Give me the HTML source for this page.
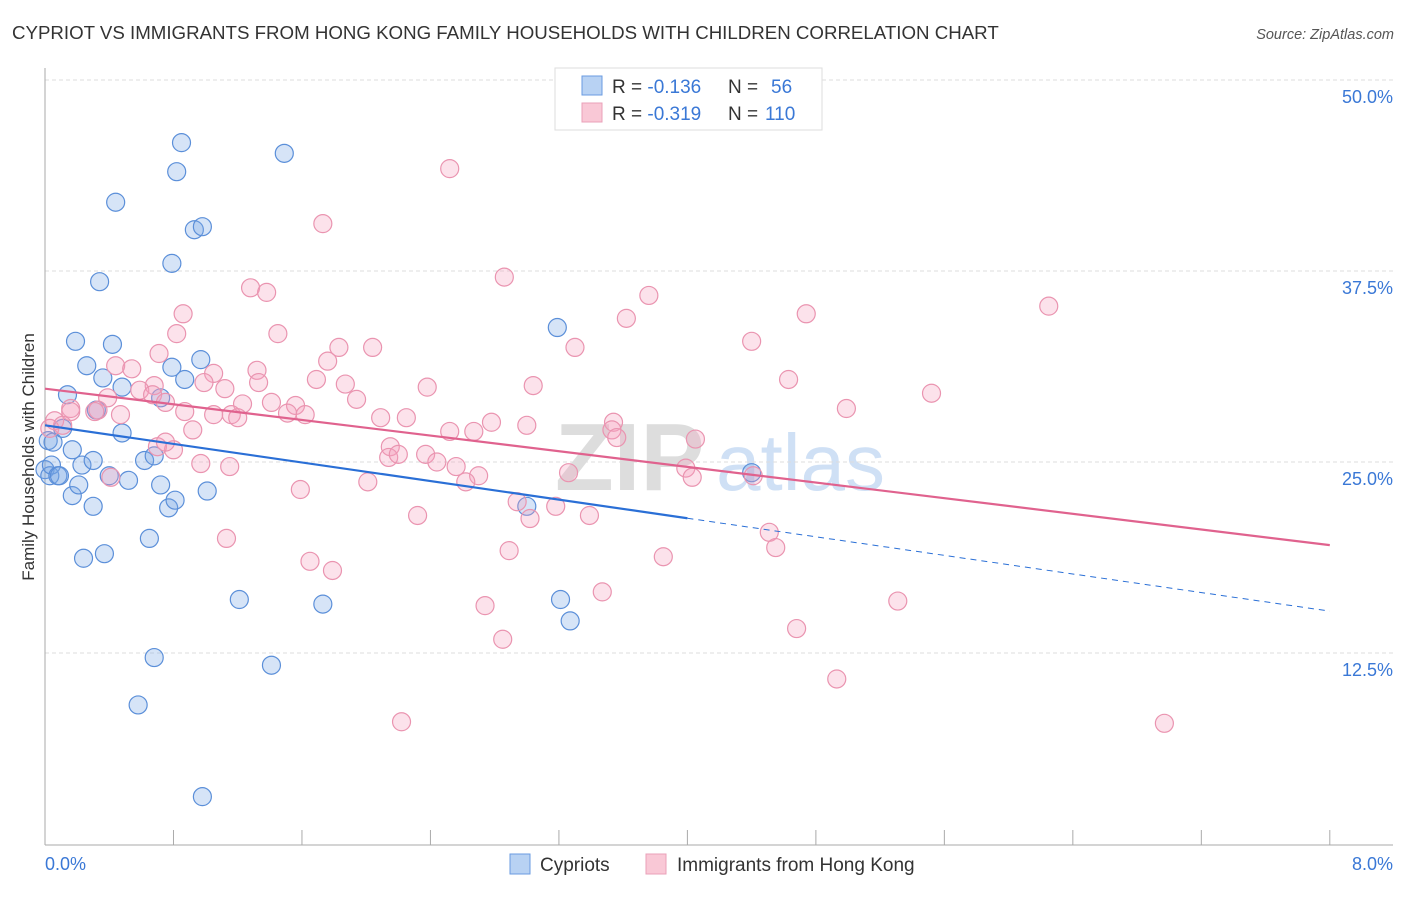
<!DOCTYPE html>
<html><head><meta charset="utf-8"><style>
body{margin:0;background:#fff;font-family:"Liberation Sans",sans-serif}
svg text{font-family:"Liberation Sans",sans-serif}
</style></head><body>
<svg id="chart" width="1406" height="892" viewBox="0 0 1406 892" xmlns="http://www.w3.org/2000/svg">
<text x="12" y="39" font-size="18.7" fill="#333">CYPRIOT VS IMMIGRANTS FROM HONG KONG FAMILY HOUSEHOLDS WITH CHILDREN CORRELATION CHART</text>
<text x="1394" y="39" font-size="14.5" fill="#555" font-style="italic" text-anchor="end">Source: ZipAtlas.com</text>
<g>
<text x="555" y="490" font-size="96" font-family="Liberation Serif" fill="#ddd" font-weight="bold">ZIP</text>
<text x="716" y="490" font-size="80" fill="#cfe0f5">atlas</text>
</g>
<g id="grid"></g>
<g id="axes"></g>
<g id="marks"></g>
<text transform="translate(34,457) rotate(-90)" font-size="17" fill="#333" text-anchor="middle">Family Households with Children</text>
<g>
<rect x="555" y="68" width="267" height="62" fill="#fff" stroke="#ddd"/>
<rect x="582" y="76" width="20" height="19" fill="#b8d2f3" stroke="#6a9be0"/>
<rect x="582" y="103" width="20" height="19" fill="#f9c8d6" stroke="#eaa0b8"/>
<text x="612" y="93" font-size="19" fill="#333">R = <tspan fill="#3a78d6">-0.136</tspan><tspan x="728">N = </tspan><tspan x="771" fill="#3a78d6">56</tspan></text>
<text x="612" y="120" font-size="19" fill="#333">R = <tspan fill="#3a78d6">-0.319</tspan><tspan x="728">N = </tspan><tspan x="765" fill="#3a78d6">110</tspan></text>
</g>
<g>
<rect x="510" y="854" width="20" height="20" fill="#b8d2f3" stroke="#6a9be0"/>
<text x="540" y="871" font-size="19" fill="#333">Cypriots</text>
<rect x="646" y="854" width="20" height="20" fill="#f9c8d6" stroke="#eaa0b8"/>
<text x="677" y="871" font-size="19" fill="#333">Immigrants from Hong Kong</text>
</g>
</svg>
<script>
const blueX=[0.00,0.03,0.04,0.08,0.09,0.02,0.05,0.14,0.11,0.17,0.21,0.23,0.17,0.19,0.26,0.30,0.30,0.32,0.34,0.36,0.42,0.44,0.48,0.48,0.52,0.24,0.37,0.40,0.65,0.62,0.68,0.72,0.72,0.77,0.79,0.81,0.79,0.82,0.85,0.87,0.93,0.97,0.98,1.01,0.68,0.58,0.98,1.21,1.41,1.49,1.73,3.00,3.19,3.21,3.27,4.40];
const blueY=[24.5,24.1,24.8,24.1,24.1,26.4,26.3,29.4,27.2,22.8,23.5,24.8,25.8,32.9,31.3,25.1,22.1,28.4,36.8,30.5,32.7,42.0,29.9,26.9,23.8,18.7,19.0,24.1,20.0,25.1,25.4,29.2,23.5,22.0,38.0,22.5,31.2,44.0,45.9,30.4,40.2,31.7,40.4,23.1,12.2,9.1,3.1,16.0,11.7,45.2,15.7,22.1,33.8,16.0,14.6,24.3];
const pinkX=[2.52,1.73,2.86,1.28,1.38,3.76,6.25,0.86,3.62,4.74,1.45,0.82,4.40,1.83,2.04,3.30,0.71,0.44,1.76,0.54,1.32,1.05,4.63,1.69,5.52,0.68,3.04,2.38,0.99,1.33,1.87,1.12,0.59,0.67,1.94,1.23,1.41,1.56,0.75,4.99,0.39,1.51,1.62,2.09,2.25,0.87,1.05,1.16,1.20,0.47,0.33,0.16,0.31,0.16,0.06,0.03,0.11,0.92,2.78,3.00,3.54,3.53,3.56,4.05,2.52,2.67,2.15,0.80,2.14,2.20,2.37,2.44,2.56,2.70,2.62,3.26,3.99,4.03,4.41,1.15,0.41,1.59,2.01,0.97,2.94,3.02,3.18,3.39,2.32,1.13,1.65,1.79,2.89,3.85,4.51,4.55,3.47,5.31,2.74,2.85,4.68,4.93,2.22,6.97,0.70,0.75];
const pinkY=[44.2,40.6,37.1,36.4,36.1,35.9,35.2,34.7,34.4,34.7,33.4,33.4,32.9,32.5,32.5,32.5,32.1,31.3,31.6,31.1,31.0,30.8,30.4,30.4,29.5,30.0,30.0,29.9,30.2,30.2,30.1,29.8,29.7,29.4,29.1,28.8,28.9,28.7,28.9,28.5,29.2,28.2,28.1,27.9,27.9,28.3,28.1,28.1,27.9,28.1,28.4,28.5,28.3,28.3,27.7,27.2,27.4,27.1,27.6,27.4,27.6,27.1,26.6,26.5,27.0,27.0,26.0,25.8,25.3,25.5,25.5,25.0,24.7,24.1,23.7,24.3,24.6,24.0,24.1,24.7,24.0,23.2,23.7,24.9,22.4,21.3,22.1,21.5,21.5,20.0,18.5,17.9,19.2,18.8,20.4,19.4,16.5,15.9,15.6,13.4,14.1,10.8,8.0,7.9,26.0,26.3];
const yTicks=[12.5,25.0,37.5,50.0];
const xTickVals=[0,0.8,1.6,2.4,3.2,4.0,4.8,5.6,6.4,7.2,8.0];
const blueTrend=[27.4,-1.52]; // intercept, slope
const pinkTrend=[29.8,-1.28];
const blueSolidEnd=4.0;

const X=v=>45+v*160.6, Y=v=>844-v*15.28;
const NS="http://www.w3.org/2000/svg";
function mk(tag,attrs,parent){const e=document.createElementNS(NS,tag);for(const k in attrs)e.setAttribute(k,attrs[k]);parent.appendChild(e);return e;}
const grid=document.getElementById('grid'),axes=document.getElementById('axes'),marks=document.getElementById('marks');
yTicks.forEach(t=>{
  const l=mk('line',{x1:45,x2:1393,y1:Y(t),y2:Y(t),stroke:'#ddd','stroke-dasharray':'4,3'},grid);
  
  
  const tx=mk('text',{x:1393,y:Y(t)+23,'font-size':18,fill:'#3a78d6','text-anchor':'end'},axes);
  tx.textContent=t.toFixed(1)+'%';
  
  
});
const la=mk('line',{x1:45,x2:45,y1:68,y2:845,stroke:'#aaa'},axes);


const ba=mk('line',{x1:45,x2:1393,y1:845,y2:845,stroke:'#aaa'},axes);


xTickVals.forEach(t=>{
  const l=mk('line',{x1:X(t),x2:X(t),y1:830,y2:845,stroke:'#aaa'},axes);
  
  
});
const xl0=mk('text',{x:45,y:870,'font-size':18,fill:'#3a78d6'},axes);xl0.textContent='0.0%';


const xl1=mk('text',{x:1393,y:870,'font-size':18,fill:'#3a78d6','text-anchor':'end'},axes);xl1.textContent='8.0%';



blueX.forEach((x,i)=>{
  const c=mk('circle',{cx:X(x),cy:Y(blueY[i]),r:9,fill:'rgba(120,165,230,0.3)',stroke:'#5b8fd9','stroke-width':1.2},marks);
  
  
});
pinkX.forEach((x,i)=>{
  const c=mk('circle',{cx:X(x),cy:Y(pinkY[i]),r:9,fill:'rgba(245,160,190,0.3)',stroke:'#ea94b0','stroke-width':1.2},marks);
  
  
});
const bt=v=>blueTrend[0]+blueTrend[1]*v, pt=v=>pinkTrend[0]+pinkTrend[1]*v;
const l1=mk('line',{x1:X(0),y1:Y(bt(0)),x2:X(blueSolidEnd),y2:Y(bt(blueSolidEnd)),stroke:'#2a6fd6','stroke-width':2.2},marks);


const l2=mk('line',{x1:X(blueSolidEnd),y1:Y(bt(blueSolidEnd)),x2:X(8),y2:Y(bt(8)),stroke:'#2a6fd6','stroke-width':1,'stroke-dasharray':'6,5'},marks);


const l3=mk('line',{x1:X(0),y1:Y(pt(0)),x2:X(8),y2:Y(pt(8)),stroke:'#e0628e','stroke-width':2.2},marks);


</script>
</body></html>
